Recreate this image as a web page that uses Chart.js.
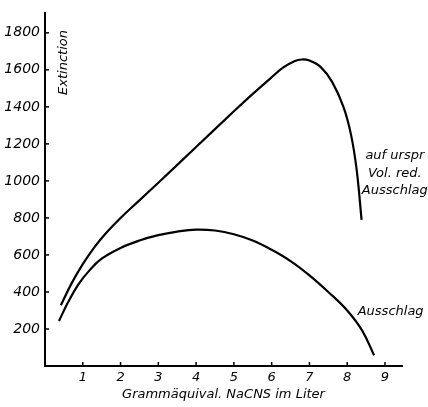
<!DOCTYPE html>
<html>
<head>
<meta charset="utf-8">
<script src="https://cdn.jsdelivr.net/npm/chart.js@4/dist/chart.umd.min.js"></script>
<style>
html,body{margin:0;padding:0;background:#fff;}
#wrap{width:428px;height:407px;}
</style>
</head>
<body>
<div id="wrap"><canvas id="c" width="428" height="407"></canvas></div>
<script>
// Upper curve: "auf urspr Vol. red. Ausschlag"
const xUpper = [0.42, 0.7, 1.0, 1.3, 1.6, 2.0, 2.5, 3.0, 4.0, 5.0, 5.5, 6.0, 6.3, 6.6, 6.8, 7.0, 7.3, 7.6, 7.9, 8.1, 8.25, 8.38];
const yUpper = [328, 445, 550, 640, 715, 800, 895, 990, 1183, 1376, 1470, 1560, 1612, 1647, 1656, 1650, 1615, 1535, 1400, 1250, 1060, 790];
// Lower curve: "Ausschlag"
const xLower = [0.37, 0.6, 0.88, 1.2, 1.5, 2.0, 2.5, 3.0, 3.5, 4.0, 4.5, 5.0, 5.5, 6.0, 6.5, 7.0, 7.5, 8.0, 8.4, 8.71];
const yLower = [243, 340, 440, 522, 580, 638, 678, 707, 726, 737, 732, 712, 678, 628, 567, 490, 400, 300, 190, 58];

const xTicks = [1, 2, 3, 4, 5, 6, 7, 8, 9];
const yTicks = [200, 400, 600, 800, 1000, 1200, 1400, 1600, 1800];

const xTitle = 'Grammäquival. NaCNS im Liter';
const yTitle = 'Extinction';
const upperLabel = ['auf urspr', 'Vol. red.', 'Ausschlag'];
const lowerLabel = 'Ausschlag';

const FONT = '"DejaVu Sans", sans-serif';

const pts = (xs, ys) => xs.map((x, i) => ({x, y: ys[i]}));

const annot = {
  id: 'annot',
  afterDraw(chart) {
    const {ctx, scales: {x, y}} = chart;
    ctx.save();
    ctx.strokeStyle = '#000';
    ctx.lineWidth = 1.5;
    // inward tick marks
    const y0 = y.getPixelForValue(0);
    const x0 = x.getPixelForValue(0);
    xTicks.forEach(v => {
      const px = x.getPixelForValue(v);
      ctx.beginPath(); ctx.moveTo(px, y0); ctx.lineTo(px, y0 - 4); ctx.stroke();
    });
    yTicks.forEach(v => {
      const py = y.getPixelForValue(v);
      ctx.beginPath(); ctx.moveTo(x0, py); ctx.lineTo(x0 + 4, py); ctx.stroke();
    });
    ctx.fillStyle = '#000';
    ctx.font = 'italic 13px ' + FONT;
    ctx.textAlign = 'center';
    ctx.textBaseline = 'middle';
    // x axis title
    ctx.fillText(xTitle, (chart.chartArea.left + chart.chartArea.right) / 2, 395);
    // y axis title (rotated)
    ctx.save();
    ctx.translate(x.getPixelForValue(0.48), y.getPixelForValue(1640));
    ctx.rotate(-Math.PI / 2);
    ctx.fillText(yTitle, 0, 0);
    ctx.restore();
    // series labels
    const ux = x.getPixelForValue(9.26);
    const uy = [1135, 1040, 950];
    upperLabel.forEach((t, i) => ctx.fillText(t, ux, y.getPixelForValue(uy[i])));
    ctx.fillText(lowerLabel, x.getPixelForValue(9.15), y.getPixelForValue(296));
    ctx.restore();
  }
};

new Chart(document.getElementById('c'), {
  type: 'line',
  data: {
    datasets: [
      {label: 'auf urspr Vol. red. Ausschlag', data: pts(xUpper, yUpper)},
      {label: 'Ausschlag', data: pts(xLower, yLower)}
    ]
  },
  options: {
    responsive: false,
    animation: false,
    devicePixelRatio: 1,
    layout: {padding: {left: 0, top: 6, right: 26, bottom: 0}},
    elements: {
      line: {borderColor: '#000', borderWidth: 2.2, tension: 0.4, fill: false, capBezierPoints: true},
      point: {radius: 0, hoverRadius: 0}
    },
    plugins: {legend: {display: false}, tooltip: {enabled: false}, title: {display: false}},
    scales: {
      x: {
        type: 'linear', min: 0, max: 9.45,
        afterFit(s) { s.height = 41; },
        afterBuildTicks(s) { s.ticks = xTicks.map(v => ({value: v})); },
        grid: {display: true, drawOnChartArea: false, drawTicks: false},
        border: {display: true, color: '#000', width: 2},
        ticks: {color: '#000', padding: 4, maxRotation: 0, autoSkip: false,
                callback: v => String(v),
                font: {family: FONT, size: 13, style: 'italic'}}
      },
      y: {
        type: 'linear', min: 0, max: 1905,
        afterFit(s) { s.width = 45; },
        afterBuildTicks(s) { s.ticks = yTicks.map(v => ({value: v})); },
        grid: {display: true, drawOnChartArea: false, drawTicks: false},
        border: {display: true, color: '#000', width: 2},
        ticks: {color: '#000', padding: 5, autoSkip: false,
                callback: v => String(v),
                font: {family: FONT, size: 14, style: 'italic'}}
      }
    }
  },
  plugins: [annot]
});
</script>
</body>
</html>
